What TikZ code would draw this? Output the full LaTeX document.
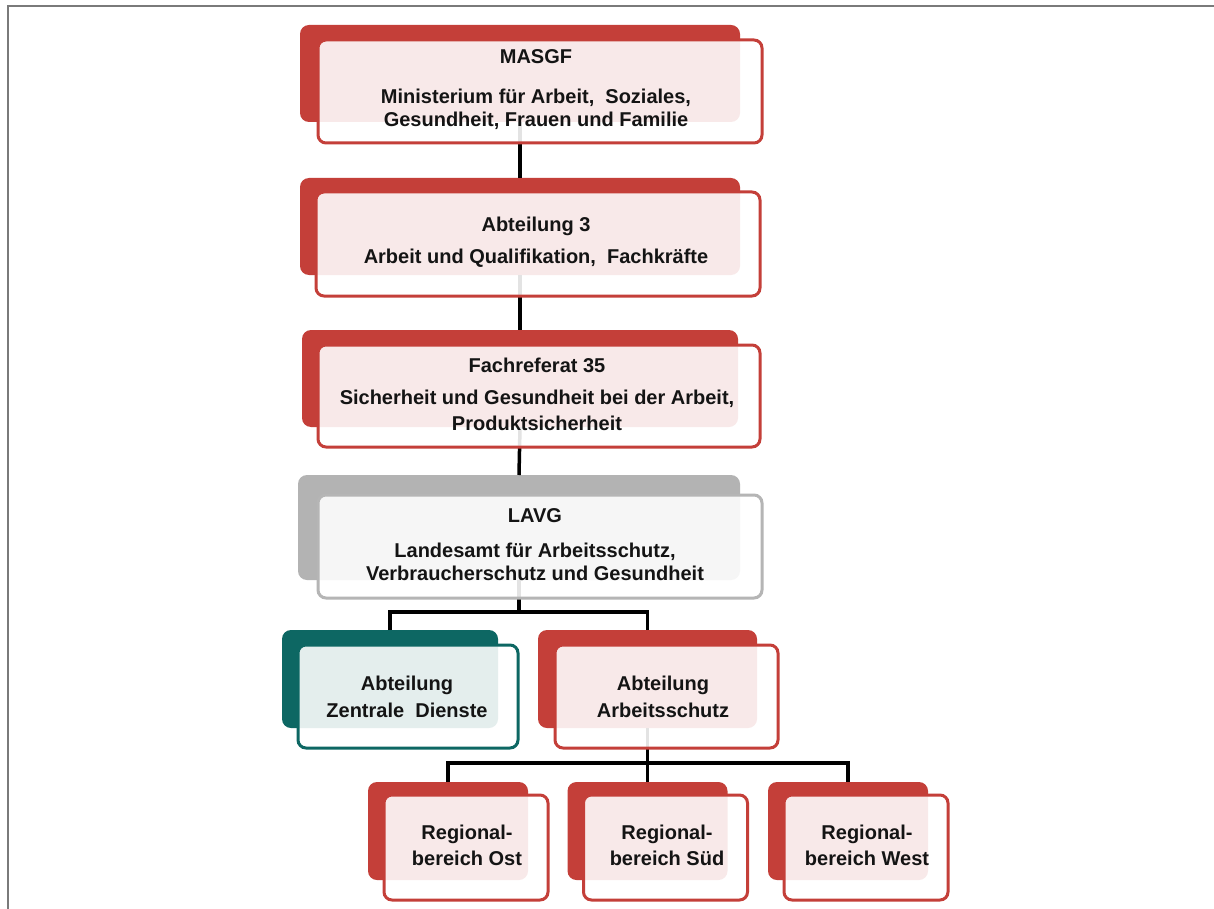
\documentclass[tikz,border=0pt]{standalone}
\usepackage{fontspec}
\setmainfont{Liberation Sans}
\definecolor{redc}{HTML}{C43F39}
\definecolor{grayback}{HTML}{B3B3B3}
\definecolor{grayline}{HTML}{B5B5B5}
\definecolor{tealc}{HTML}{0D6763}
\definecolor{framec}{HTML}{7A7A7A}
\definecolor{txt}{HTML}{141414}
\begin{document}
\begin{tikzpicture}[x=1pt,y=-1pt,
  backbox/.style={rectangle, rounded corners=9pt, inner sep=0pt, outer sep=0pt},
  redback/.style={backbox, fill=redc},
  grayback/.style={backbox, fill=grayback},
  tealback/.style={backbox, fill=tealc},
  frontbox/.style={rectangle, rounded corners=8pt, inner sep=0pt, outer sep=0pt, fill=white, fill opacity=0.89, text opacity=1, line width=3pt},
  redfront/.style={frontbox, draw=redc},
  grayfront/.style={frontbox, draw=grayline},
  tealfront/.style={frontbox, draw=tealc},
  lbl/.style={font=\fontsize{20}{23}\selectfont\bfseries, align=center, text=txt, inner sep=0pt},
  conn/.style={draw=black, line width=3.5pt}
]
\useasboundingbox (0,0) rectangle (1214,909);
\fill[white] (0,0) rectangle (1214,909);
\draw[framec, line width=2pt] (7.5,909) -- (7.5,6.5) -- (1214,6.5);

% back boxes
\node[redback, minimum width=440pt, minimum height=97pt] (mB) at (520,73.5) {};
\node[redback, minimum width=440pt, minimum height=97pt] (aB) at (520,226.5) {};
\node[redback, minimum width=436pt, minimum height=97pt] (fB) at (520,378.5) {};
\node[grayback, minimum width=442pt, minimum height=105pt] (lB) at (519,527.5) {};
\node[tealback, minimum width=216pt, minimum height=98pt] (zB) at (390,679) {};
\node[redback, minimum width=219pt, minimum height=98pt] (sB) at (647.5,679) {};
\node[redback, minimum width=160pt, minimum height=98pt] (oB) at (448,831) {};
\node[redback, minimum width=160pt, minimum height=98pt] (dB) at (647.5,831) {};
\node[redback, minimum width=160pt, minimum height=98pt] (wB) at (848,831) {};

% connectors
\coordinate (j1) at (519,612);
\coordinate (j2) at (647.5,763);
\draw[conn] (mB.south) -- (aB.north);
\draw[conn] (aB.south) -- (fB.north);
\draw[conn] (fB.south) -- (lB.north);
\draw[conn] (lB.south) -- (j1);
\draw[conn] (zB.north) |- (j1) -| (sB.north);
\draw[conn] (sB.south) -- (j2);
\draw[conn] (oB.north) |- (j2) -| (wB.north);
\draw[conn] (j2) -- (dB.north);

% front boxes
\node[redfront, minimum width=444pt, minimum height=103pt] (mF) at (540,91.5) {};
\node[redfront, minimum width=444pt, minimum height=104pt] (aF) at (538,244) {};
\node[redfront, minimum width=442pt, minimum height=102pt] (fF) at (539,396) {};
\node[grayfront, minimum width=444pt, minimum height=103pt] (lF) at (540,546.5) {};
\node[tealfront, minimum width=220pt, minimum height=103pt] (zF) at (408,696.5) {};
\node[redfront, minimum width=223pt, minimum height=103pt] (sF) at (666.5,696.5) {};
\node[redfront, minimum width=164pt, minimum height=105pt] (oF) at (466,847.5) {};
\node[redfront, minimum width=164pt, minimum height=105pt] (dF) at (665.5,847.5) {};
\node[redfront, minimum width=164pt, minimum height=105pt] (wF) at (866,847.5) {};

% texts
\node[lbl] (mT) at (536,90) {MASGF\\[17pt]Ministerium für Arbeit,\ \ Soziales,\\Gesundheit, Frauen und Familie};
\node[lbl] (aT) at (536,242) {Abteilung 3\\[9pt]Arbeit und Qualifikation,\ \ Fachkräfte};
\node[lbl] (fT) at (537,394) {Fachreferat 35\\[9pt]Sicherheit und Gesundheit bei der Arbeit,\\[3pt]Produktsicherheit};
\node[lbl] (lT) at (535,545) {LAVG\\[12pt]Landesamt für Arbeitsschutz,\\Verbraucherschutz und Gesundheit};
\node[lbl, font=\fontsize{20}{27}\selectfont\bfseries] (zT) at (407,697) {Abteilung\\Zentrale\ \ Dienste};
\node[lbl, font=\fontsize{20}{27}\selectfont\bfseries] (sT) at (663,697) {Abteilung\\Arbeitsschutz};
\node[lbl, font=\fontsize{20}{26}\selectfont\bfseries] (oT) at (467,845) {Regional-\\bereich Ost};
\node[lbl, font=\fontsize{20}{26}\selectfont\bfseries] (dT) at (667,845) {Regional-\\bereich Süd};
\node[lbl, font=\fontsize{20}{26}\selectfont\bfseries] (wT) at (867,845) {Regional-\\bereich West};
\end{tikzpicture}
\end{document}
